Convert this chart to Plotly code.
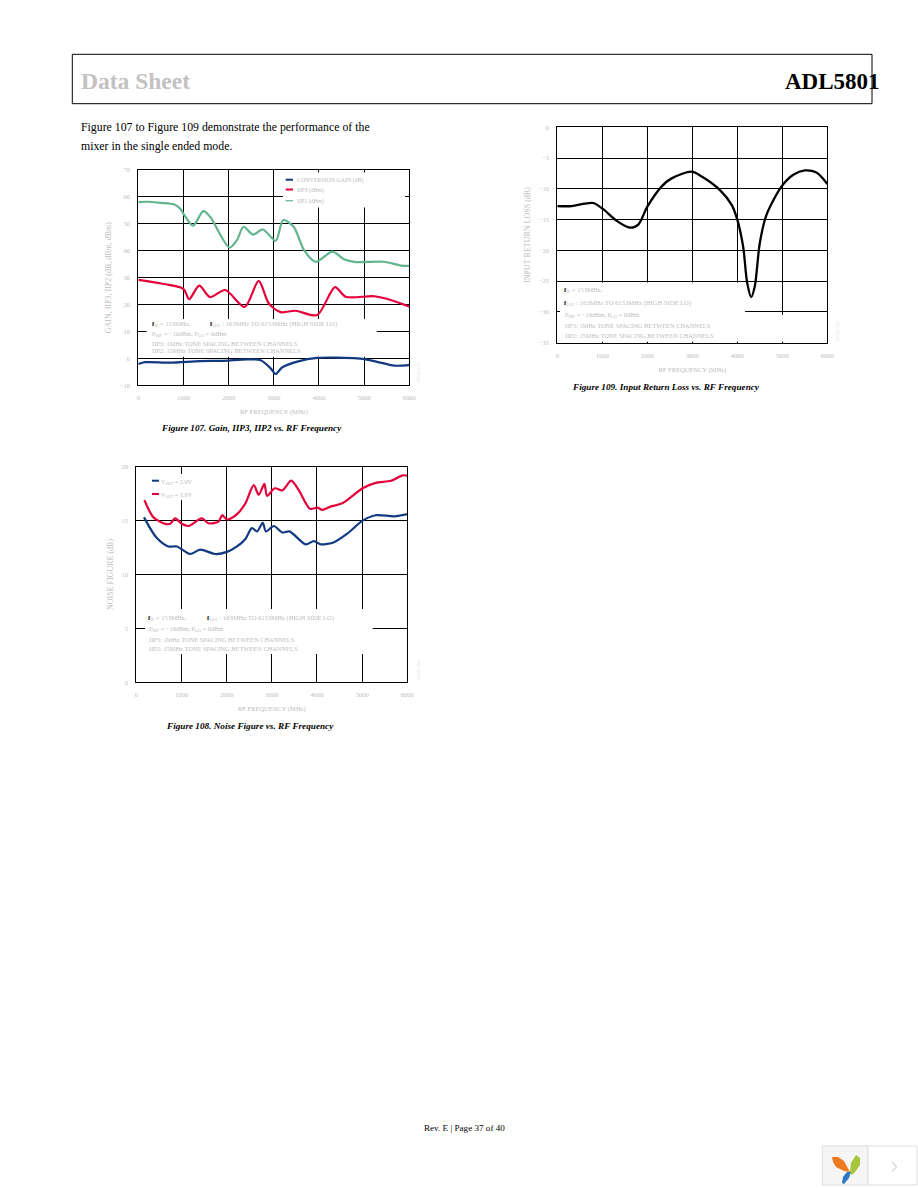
import plotly.graph_objects as go

W, H = 918, 1188

# ---------- Figure 107 ----------
gain_f = [0, 150, 700, 1370, 1890, 2410, 2710, 2930, 3040, 3190, 3520, 3960, 4850, 5220, 5670, 6020]
gain_v = [-2.1, -1.4, -1.6, -1.0, -0.9, -0.4, -0.7, -3.7, -5.8, -3.3, -1.2, 0.2, 0.0, -1.0, -2.7, -2.4]
iip3_f = [0, 925, 1020, 1125, 1350, 1590, 1925, 2355, 2665, 2890, 3150, 3480, 3960, 4355, 4590, 5220, 5590, 6020]
iip3_v = [29.2, 26.4, 25.4, 22.0, 27.0, 22.8, 25.4, 19.1, 28.8, 20.4, 17.2, 17.7, 16.1, 26.5, 22.9, 23.1, 21.7, 19.1]
iip2_f = [0, 200, 500, 800, 925, 1020, 1210, 1440, 1590, 2020, 2185, 2330, 2540, 2760, 3040, 3210, 3440, 3670, 3930, 4300, 4555, 4815, 5440, 5815, 6020]
iip2_v = [58.1, 58.2, 57.8, 57.2, 55.7, 53.2, 49.3, 54.7, 52.6, 41.2, 44.0, 48.9, 46.0, 47.9, 43.7, 51.4, 48.9, 40.2, 35.9, 39.7, 36.8, 35.8, 35.9, 34.5, 34.4]

# ---------- Figure 108 ----------
nf_low_f = [170, 450, 710, 900, 1190, 1415, 1750, 2010, 2230, 2415, 2560, 2675, 2800, 2870, 3045, 3230, 3390, 3750, 3930, 4080, 4380, 4675, 5010, 5300, 5710, 6020]
nf_low_v = [15.3, 13.4, 12.6, 12.6, 11.9, 12.3, 11.9, 12.1, 12.6, 13.3, 14.3, 14.0, 14.8, 14.0, 14.5, 13.9, 14.0, 12.8, 13.1, 12.8, 13.0, 13.8, 15.0, 15.5, 15.4, 15.6]
nf_high_f = [180, 380, 640, 750, 860, 1005, 1155, 1450, 1600, 1820, 1900, 2010, 2230, 2415, 2600, 2710, 2835, 2895, 3065, 3230, 3430, 3600, 3845, 4010, 4120, 4300, 4560, 5010, 5300, 5640, 5900, 6020]
nf_high_v = [16.9, 15.3, 14.7, 14.7, 15.2, 14.7, 14.5, 15.2, 14.75, 14.9, 15.5, 15.1, 15.6, 16.6, 18.3, 17.4, 18.4, 17.3, 18.0, 17.8, 18.7, 17.8, 16.1, 16.2, 16.0, 16.3, 16.6, 18.0, 18.5, 18.7, 19.2, 19.15]

# ---------- Figure 109 ----------
rl_f = [0, 320, 615, 800, 1020, 1320, 1615, 1800, 2000, 2320, 2540, 2985, 3210, 3615, 3875, 4000, 4130, 4220, 4310, 4390, 4500, 4650, 4985, 5245, 5500, 5760, 6000]
rl_v = [-12.8, -12.8, -12.4, -12.3, -13.3, -15.2, -16.3, -15.8, -12.9, -9.6, -8.3, -7.2, -8.0, -10.2, -12.6, -15.0, -19.4, -25.3, -27.6, -25.8, -18.8, -14.2, -9.6, -7.7, -7.0, -7.35, -9.2]

x_ticks = [0, 1000, 2000, 3000, 4000, 5000, 6000]
y1_ticks = [-10, 0, 10, 20, 30, 40, 50, 60, 70]
y2_ticks = [0, 5, 10, 15, 20]
y3_ticks = [0, -5, -10, -15, -20, -25, -30, -35]

BLUE, RED, GREEN, BLACK = "#123a82", "#e4003a", "#63b58f", "#000000"
GREY = "#bdbdbd"
SERIF = "Liberation Serif"

# pixel boxes of the three plot areas: left, right, top, bottom
boxes = {
    "": (138.3, 409.3, 170.0, 385.3, [-10, 70]),
    "2": (136.3, 407.3, 466.7, 682.3, [0, 20]),
    "3": (557.3, 827.3, 127.3, 342.7, [-35, 0]),
}


def px(x):
    return x / W


def py(y):
    return 1 - y / H


fig = go.Figure()


def add(x, y, name, color, ax, width=2.2):
    fig.add_trace(go.Scatter(x=x, y=y, name=name, mode="lines",
                             line=dict(color=color, width=width, shape="spline", smoothing=0.8),
                             xaxis="x" + ax, yaxis="y" + ax, showlegend=False))


add(gain_f, gain_v, "CONVERSION GAIN (dB)", BLUE, "")
add(iip3_f, iip3_v, "IIP3 (dBm)", RED, "")
add(iip2_f, iip2_v, "IIP2 (dBm)", GREEN, "")
add(nf_low_f, nf_low_v, "VSET = 2.0V", BLUE, "2")
add(nf_high_f, nf_high_v, "VSET = 3.6V", RED, "2")
add(rl_f, rl_v, "Input Return Loss", BLACK, "3", 2.3)

titles = {
    "": ("GAIN, IIP3, IIP2 (dB, dBm, dBm)", y1_ticks),
    "2": ("NOISE FIGURE (dB)", y2_ticks),
    "3": ("INPUT RETURN LOSS (dB)", y3_ticks),
}
layout = {}
for ax, (l, r, t, b, yr) in boxes.items():
    common = dict(showgrid=True, gridcolor="#000", gridwidth=1.3, zeroline=False, automargin=False,
                  showline=True, linecolor="#000", linewidth=1.2, mirror=True,
                  ticks="outside", ticklen=6, tickcolor="rgba(0,0,0,0)",
                  tickfont=dict(family=SERIF, size=6.5, color=GREY))
    layout["xaxis" + ax] = dict(common, domain=[px(l), px(r)], range=[0, 6000], tickvals=x_ticks,
                                anchor="y" + ax,
                                title=dict(text="RF FREQUENCY (MHz)", standoff=9,
                                           font=dict(family=SERIF, size=6.5, color=GREY)))
    layout["yaxis" + ax] = dict(common, domain=[py(b), py(t)], range=yr, tickvals=titles[ax][1],
                                anchor="x" + ax,
                                title=dict(text=titles[ax][0], standoff=6,
                                           font=dict(family=SERIF, size=8, color=GREY)))

shapes = []
annots = []


def mask(ax, x0, x1, y0, y1):
    l, r, t, b, yr = boxes[ax]
    dx = lambda p: (p - l) / (r - l) * 6000
    dy = lambda p: yr[1] - (p - t) / (b - t) * (yr[1] - yr[0])
    shapes.append(dict(type="rect", xref="x" + ax, yref="y" + ax, layer="between",
                       x0=dx(x0), x1=dx(x1), y0=dy(y1), y1=dy(y0),
                       fillcolor="#fff", line=dict(width=0)))


mask("", 283, 405, 172.5, 207.5)
mask("", 146.7, 376.7, 319, 356.7)
mask("2", 145, 225, 474, 500)
mask("2", 145, 372.7, 609, 654)
mask("3", 560, 745, 282.5, 341.8)
mask("3", 770, 795, 315, 341.8)


def text(x, y, s, size=6.5, color=GREY, family=SERIF, anchor="left", angle=0):
    annots.append(dict(x=px(x), y=py(y), xref="paper", yref="paper", text=s, showarrow=False,
                       xanchor=anchor, yanchor="middle", textangle=angle,
                       borderpad=0, borderwidth=0,
                       font=dict(family=family, size=size, color=color)))


def hline(x0, x1, y, color, width=1.6):
    shapes.append(dict(type="line", xref="paper", yref="paper", x0=px(x0), x1=px(x1), y0=py(y), y1=py(y),
                       line=dict(color=color, width=width), layer="above"))


# page header
shapes.append(dict(type="rect", xref="paper", yref="paper", x0=px(72.3), x1=px(872), y0=py(103.7), y1=py(54.3),
                   line=dict(color="#000", width=1), layer="below"))
text(81, 81.5, "<b>Data Sheet</b>", 23.5, "#c2c2c2")
text(879.5, 81.5, "<b>ADL5801</b>", 23, "#000", anchor="right")
text(81, 127, "Figure 107 to Figure 109 demonstrate the performance of the", 11.8, "#000")
text(81, 146, "mixer in the single ended mode.", 11.8, "#000")

# figure 107 legend and notes
for y, c, s, w in [(179.7, BLUE, "CONVERSION GAIN (dB)", 2), (189.5, RED, "IIP3 (dBm)", 2), (200.7, GREEN, "IIP2 (dBm)", 1.2)]:
    hline(285.7, 293, y, c, w)
    text(296.5, y + 1, s, 5.9)
F = '<span style="color:#000"><b>f</b></span>'
F_IF = F + "<sub>IF</sub> = 153MHz,"
F_LO = F + "<sub>LO1</sub> : 163MHz TO 6153MHz (HIGH SIDE LO)"
text(152, 324, F_IF, 6.6)
text(210, 324, F_LO, 6.6)
text(152, 333.5, "P<sub>MF</sub> = −10dBm, P<sub>LO</sub> = 0dBm", 6.4)
text(152, 343, "IIP3: 1MHz TONE SPACING BETWEEN CHANNELS", 6.4)
text(152, 351, "IIP2: 15MHz TONE SPACING BETWEEN CHANNELS", 6.4)
text(251, 428, "<b><i>Figure 107. Gain, IIP3, IIP2 vs. RF Frequency</i></b>", 9.2, "#000", anchor="center")
text(418, 372, "09526-107", 4.5, "#e2e2e2", anchor="center", angle=-90)

# figure 108 legend and notes
for y, c, s in [(480.7, BLUE, "V<sub>SET</sub> = 2.0V"), (494, RED, "V<sub>SET</sub> = 3.6V")]:
    hline(152, 159, y, c, 2)
    text(161, y + 1, s, 6.2)
text(148, 618, F_IF, 6.6)
text(207, 618, F_LO, 6.6)
text(149, 628.5, "P<sub>MF</sub> = −10dBm, P<sub>LO</sub> = 0dBm", 6.4)
text(149, 639, "IIP3: 1MHz TONE SPACING BETWEEN CHANNELS", 6.4)
text(149, 648.5, "IIP2: 15MHz TONE SPACING BETWEEN CHANNELS", 6.4)
text(250, 725.5, "<b><i>Figure 108. Noise Figure vs. RF Frequency</i></b>", 9.2, "#000", anchor="center")
text(418, 670, "09526-108", 4.5, "#e2e2e2", anchor="center", angle=-90)

# figure 109 notes
text(564, 290, F_IF, 6.6)
text(564, 303, F_LO, 6.6)
text(565, 315, "P<sub>MF</sub> = −10dBm, P<sub>LO</sub> = 0dBm", 6.4)
text(565, 325.5, "IIP3: 1MHz TONE SPACING BETWEEN CHANNELS", 6.4)
text(565, 335, "IIP2: 15MHz TONE SPACING BETWEEN CHANNELS", 6.4)
text(666, 387, "<b><i>Figure 109. Input Return Loss vs. RF Frequency</i></b>", 9.2, "#000", anchor="center")
text(838, 331, "09526-109", 4.5, "#e2e2e2", anchor="center", angle=-90)

# footer
text(464, 1128, "Rev. E | Page 37 of 40", 9.1, "#000", anchor="center")

# corner badge
for x0, x1, fill in [(822.3, 868, "#f5f5f5"), (868, 917, "#ffffff")]:
    shapes.append(dict(type="rect", xref="paper", yref="paper", x0=px(x0), x1=px(x1), y0=py(1185), y1=py(1146),
                       fillcolor=fill, line=dict(color="#dddddd", width=1), layer="below"))


def pth(pts, fill):
    parts = []
    for i, (x, y) in enumerate(pts):
        parts.append(f"{'M' if i == 0 else 'L'}{px(x):.5f},{py(y):.5f}")
    shapes.append(dict(type="path", xref="paper", yref="paper", path=" ".join(parts) + " Z",
                       fillcolor=fill, line=dict(width=0), layer="above"))


pth([(832, 1157), (838, 1157), (844, 1161), (850, 1172), (844, 1171), (836, 1167), (833, 1162)], "#ee7a1f")
pth([(850, 1172), (851, 1163), (856, 1155), (860, 1158), (860, 1165), (855, 1172), (852, 1175)], "#a5c63b")
pth([(851, 1172), (849, 1178), (844, 1184), (842, 1183), (843, 1177), (847, 1172)], "#2a78c2")
shapes.append(dict(type="path", xref="paper", yref="paper",
                   path=f"M{px(892):.5f},{py(1162):.5f} L{px(896.5):.5f},{py(1167):.5f} L{px(892):.5f},{py(1171.5):.5f}",
                   line=dict(color="#bbbbbb", width=1), layer="above"))

fig.update_layout(width=W, height=H, margin=dict(l=0, r=0, t=0, b=0), autosize=False,
                  plot_bgcolor="rgba(0,0,0,0)", paper_bgcolor="#fff", showlegend=False,
                  shapes=shapes, annotations=annots, **layout)
fig.write_html("out.html", config=dict(displayModeBar=False),
               post_script="document.body.style.margin='0';")
